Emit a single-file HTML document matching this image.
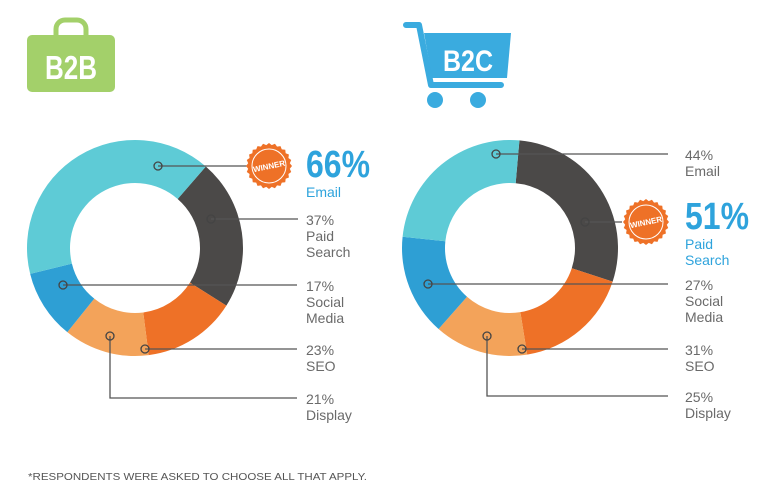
<!DOCTYPE html>
<html><head><meta charset="utf-8"><style>
body{margin:0;background:#fff;width:768px;height:493px;overflow:hidden}
svg text{font-family:"Liberation Sans",sans-serif}
</style></head><body>
<svg width="768" height="493" viewBox="0 0 768 493">
<g>
  <path d="M56 35 v-6 a9 9 0 0 1 9 -9 h12 a9 9 0 0 1 9 9 v6" fill="none" stroke="#a3d06a" stroke-width="5"/>
  <rect x="27" y="35" width="88" height="57" rx="5" fill="#a3d06a"/>
  <text x="71" y="79" font-size="33" font-weight="bold" fill="#fff" text-anchor="middle" textLength="52" lengthAdjust="spacingAndGlyphs">B2B</text>
</g>
<g>
  <path d="M406 25 h13 l12 60 h70" fill="none" stroke="#3aabdf" stroke-width="6" stroke-linecap="round" stroke-linejoin="round"/>
  <path d="M424 33 h87 l-4 45 h-75 z" fill="#3aabdf"/>
  <circle cx="435" cy="100" r="8" fill="#3aabdf"/>
  <circle cx="478" cy="100" r="8" fill="#3aabdf"/>
  <text x="468" y="71" font-size="30" font-weight="bold" fill="#fff" text-anchor="middle" textLength="50" lengthAdjust="spacingAndGlyphs">B2C</text>
</g>
<g id="donuts"></g>
<text x="28" y="480" font-size="10" fill="#555" textLength="339" lengthAdjust="spacingAndGlyphs">*RESPONDENTS WERE ASKED TO CHOOSE ALL THAT APPLY.</text>
</svg>
<script>
const categories=["Paid Search","SEO","Display","Social Media","Email"];
const colors=["#4b4948","#ee7127","#f3a35a","#2e9fd4","#5ecbd6"];
const b2bValues=[37,23,21,17,66];
const b2cValues=[51,31,25,27,44];
const b2bStart=41, b2cStart=5;
const NS="http://www.w3.org/2000/svg";
const g=document.getElementById('donuts');
function mk(t,a,p){const e=document.createElementNS(NS,t);for(const k in a)e.setAttribute(k,a[k]);(p||g).appendChild(e);return e;}
function pt(cx,cy,r,deg){const a=deg*Math.PI/180;return [cx+r*Math.sin(a),cy-r*Math.cos(a)];}
function donut(vals,start,cx,cy,name){
  const R=108,r=65,sum=vals.reduce((a,b)=>a+b,0);let a0=start;
  vals.forEach((v,i)=>{
    const a1=a0+v/sum*360,lg=(a1-a0)>180?1:0;
    const p1=pt(cx,cy,R,a0),p2=pt(cx,cy,R,a1),p3=pt(cx,cy,r,a1),p4=pt(cx,cy,r,a0);
    const p=mk('path',{d:`M${p1}A${R} ${R} 0 ${lg} 1 ${p2}L${p3}A${r} ${r} 0 ${lg} 0 ${p4}Z`,fill:colors[i]});
    
    
    a0=a1;
  });
}
donut(b2bValues,b2bStart,135,248,'b2b');
donut(b2cValues,b2cStart,510,248,'b2c');
function leader(pts,m){
  const l=mk('polyline',{points:pts.map(p=>p.join(',')).join(' '),fill:'none',stroke:'#555','stroke-width':1.3});
  
  
  const c=mk('circle',{cx:pts[0][0],cy:pts[0][1],r:4,fill:'none',stroke:'#444','stroke-width':1.3});
  
  
}
function label(x,y,lines,name,win){
  const t=mk('text',{x:x,y:y,'font-size':14,fill:win?'#2ea3dc':'#6a6a6a'});
  
  
  lines.forEach((s,i)=>{const ts=mk('tspan',{x:x,dy:i?16:0},t);
    if(win&&i==0){ts.setAttribute('font-size','38');ts.setAttribute('font-weight','bold');ts.setAttribute('textLength','64');ts.setAttribute('lengthAdjust','spacingAndGlyphs');}
    if(win&&i==1)ts.setAttribute('dy','20');
    ts.textContent=s;});
}
function badge(cx,cy,name){
  const n=24;let d='';
  for(let i=0;i<n*2;i++){const rr=i%2?21:23;const p=pt(cx,cy,rr,i*180/n);d+=(i?'L':'M')+p;}
  const b=mk('path',{d:d+'Z',fill:'#ee7127'});
  
  
  mk('circle',{cx:cx,cy:cy,r:17,fill:'none',stroke:'#fff','stroke-width':1});
  const t=mk('text',{x:cx,y:cy+3,'font-size':8,'font-weight':'bold',fill:'#fff','text-anchor':'middle',transform:`rotate(-12 ${cx} ${cy})`});
  
  
  t.textContent='WINNER';
}
// B2B
leader([[158,166],[247,166]]);badge(269,166,'b2b-winner-badge');
label(306,177,[b2bValues[4]+'%','Email'],'b2b-email-label',true);
leader([[211,219],[298,219]]);label(306,225,[b2bValues[0]+'%','Paid','Search'],'b2b-paid-label');
leader([[63,285],[297,285]]);label(306,291,[b2bValues[3]+'%','Social','Media'],'b2b-social-label');
leader([[145,349],[297,349]]);label(306,355,[b2bValues[1]+'%','SEO'],'b2b-seo-label');
leader([[110,336],[110,398],[297,398]]);label(306,404,[b2bValues[2]+'%','Display'],'b2b-display-label');
// B2C
leader([[496,154],[668,154]]);label(685,160,[b2cValues[4]+'%','Email'],'b2c-email-label');
leader([[585,222],[622,222]]);badge(646,222,'b2c-winner-badge');
label(685,229,[b2cValues[0]+'%','Paid','Search'],'b2c-paid-label',true);
leader([[428,284],[668,284]]);label(685,290,[b2cValues[3]+'%','Social','Media'],'b2c-social-label');
leader([[522,349],[668,349]]);label(685,355,[b2cValues[1]+'%','SEO'],'b2c-seo-label');
leader([[487,336],[487,396],[668,396]]);label(685,402,[b2cValues[2]+'%','Display'],'b2c-display-label');
</script>
</body></html>
